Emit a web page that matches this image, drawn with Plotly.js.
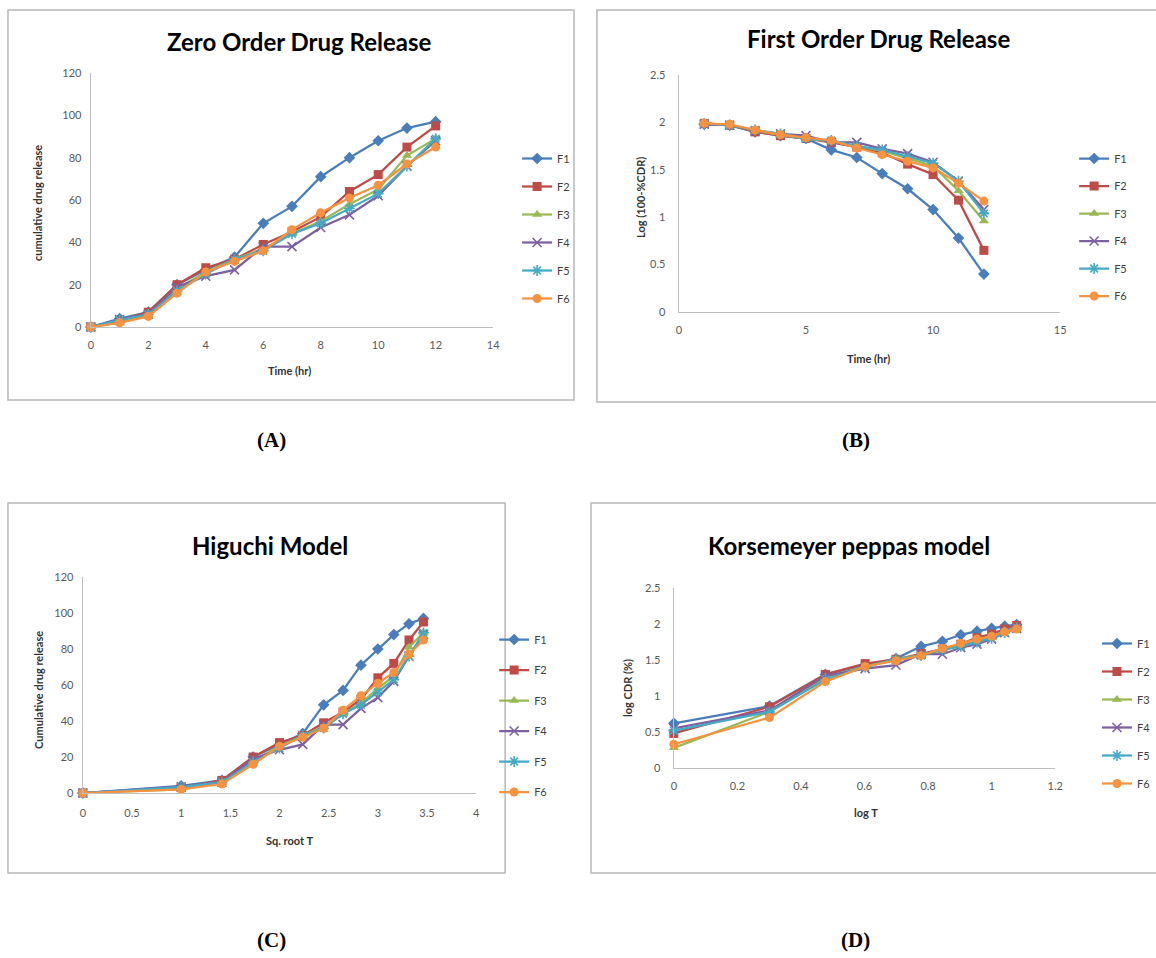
<!DOCTYPE html>
<html>
<head>
<meta charset="utf-8">
<script src="https://cdn.plot.ly/plotly-3.0.1.min.js"></script>
<style>html,body{margin:0;padding:0;background:#fff;}#chart{width:1156px;height:958px;}</style>
</head>
<body>
<div id="chart"></div>
<script>
// ---------- DATA ----------
const seriesNames = ['F1','F2','F3','F4','F5','F6'];

// (A) Zero order: cumulative drug release vs time (hr)
const timeHr = [0,1,2,3,4,5,6,7,8,9,10,11,12];
const zeroF1 = [0,4,7,20,27,33,49,57,71,80,88,94,97];
const zeroF2 = [0,3,7,20,28,32,39,45,52,64,72,85,95];
const zeroF3 = [0,2,6,18,26,32,37,44,50,58,65,81,89];
const zeroF4 = [0,3.5,6,19,24,27,38,38,47,53,62,76,88];
const zeroF5 = [0,3.3,6,17,25,32,36,44,49,56,63,76,89];
const zeroF6 = [0,2,5,16,26,31,36,46,54,61,67,77,85];

// (B) First order: log(100-%CDR) vs time (hr)
const timeHrB = [1,2,3,4,5,6,7,8,9,10,11,12];
const firstF1 = [1.98,1.97,1.90,1.86,1.83,1.71,1.63,1.46,1.30,1.08,0.78,0.40];
const firstF2 = [1.99,1.97,1.90,1.86,1.83,1.79,1.74,1.68,1.56,1.45,1.18,0.65];
const firstF3 = [1.99,1.97,1.91,1.87,1.83,1.80,1.75,1.70,1.62,1.54,1.28,0.96];
const firstF4 = [1.98,1.97,1.91,1.88,1.86,1.79,1.79,1.72,1.67,1.58,1.38,1.08];
const firstF5 = [1.99,1.97,1.92,1.88,1.83,1.81,1.75,1.71,1.64,1.57,1.38,1.04];
const firstF6 = [1.99,1.98,1.92,1.87,1.84,1.81,1.73,1.66,1.59,1.52,1.36,1.17];

// (C) Higuchi: cumulative drug release vs square root of time
const sqrtT = [0,1,1.414,1.732,2,2.236,2.449,2.646,2.828,3,3.162,3.317,3.464];
const higF1 = [0,4,7,20,27,33,49,57,71,80,88,94,97];
const higF2 = [0,3,7,20,28,32,39,45,52,64,72,85,95];
const higF3 = [0,2,6,18,26,32,37,44,50,58,65,81,89];
const higF4 = [0,3.5,6,19,24,27,38,38,47,53,62,76,88];
const higF5 = [0,3.3,6,17,25,32,36,44,49,56,63,76,89];
const higF6 = [0,2,5,16,26,31,36,46,54,61,67,77,85];

// (D) Korsmeyer-Peppas: log CDR (%) vs log T
const logT = [0,0.301,0.477,0.602,0.699,0.778,0.845,0.903,0.954,1.0,1.041,1.079];
const kpF1 = [0.62,0.86,1.30,1.43,1.52,1.69,1.76,1.85,1.90,1.94,1.97,1.99];
const kpF2 = [0.48,0.85,1.30,1.45,1.51,1.59,1.65,1.72,1.81,1.86,1.93,1.98];
const kpF3 = [0.28,0.78,1.26,1.41,1.51,1.57,1.64,1.70,1.76,1.81,1.91,1.95];
const kpF4 = [0.55,0.80,1.28,1.38,1.43,1.58,1.58,1.67,1.72,1.79,1.88,1.94];
const kpF5 = [0.52,0.78,1.23,1.40,1.51,1.56,1.64,1.69,1.75,1.80,1.88,1.95];
const kpF6 = [0.33,0.70,1.20,1.41,1.49,1.56,1.66,1.73,1.79,1.83,1.89,1.93];

// ---------- STYLE ----------
const colors  = ['#4A7EBB','#BE4B48','#98B954','#7D60A0','#46AAC5','#F69240'];
const symbols = ['diamond','square','triangle-up','x-thin','asterisk','circle'];
const W = 1156, H = 958;
const FONT = 'Lato, "Open Sans", sans-serif';

function px(x){ return x / W; }
function py(y){ return 1 - y / H; }

const panels = [
  {x: timeHr,   ys: [zeroF1,zeroF2,zeroF3,zeroF4,zeroF5,zeroF6], xa:'x',  ya:'y',  leg:'legend'},
  {x: timeHrB,  ys: [firstF1,firstF2,firstF3,firstF4,firstF5,firstF6], xa:'x2', ya:'y2', leg:'legend2'},
  {x: sqrtT,    ys: [higF1,higF2,higF3,higF4,higF5,higF6], xa:'x3', ya:'y3', leg:'legend3'},
  {x: logT,     ys: [kpF1,kpF2,kpF3,kpF4,kpF5,kpF6], xa:'x4', ya:'y4', leg:'legend4'}
];

const traces = [];
panels.forEach((p, pi) => {
  p.ys.forEach((ys, i) => {
    const lineSym = (symbols[i] === 'x-thin' || symbols[i] === 'asterisk');
    traces.push({
      type: 'scatter', mode: 'lines+markers',
      x: p.x, y: ys, name: seriesNames[i],
      xaxis: p.xa, yaxis: p.ya, legend: p.leg,
      legendgroup: 'g' + pi + i,
      cliponaxis: false,
      line: {color: colors[i], width: 2.25},
      marker: {symbol: symbols[i], size: lineSym ? 9 : 9, color: colors[i],
               line: {color: colors[i], width: lineSym ? 1.6 : 0}},
      hoverinfo: 'skip'
    });
  });
});

function axis(domain, range, dtick, anchor, standoff){
  return {domain: domain, range: range, dtick: dtick, tick0: 0, anchor: anchor,
    showline: true, linecolor: '#bfbfbf', linewidth: 1.2, showgrid: false, zeroline: false,
    ticks: '', tickfont: {family: FONT, size: 11, color: '#595959'},
    ticklabelstandoff: standoff, fixedrange: true};
}

function legendAt(x, y, gap){
  return {x: px(x), y: py(y), xanchor: 'left', yanchor: 'top',
    font: {family: FONT, size: 11, color: '#404040'}, bgcolor: 'rgba(0,0,0,0)',
    traceorder: 'grouped', tracegroupgap: gap, itemwidth: 30, borderwidth: 0};
}

const layout = {
  width: W, height: H, margin: {l:0, r:0, t:0, b:0},
  paper_bgcolor: '#fff', plot_bgcolor: 'rgba(0,0,0,0)',
  font: {family: FONT},
  xaxis:  axis([px(91),  px(494)],  [0,14],  2,   'y',  8),
  yaxis:  axis([py(327), py(73)],   [0,120], 20,  'x',  6),
  xaxis2: axis([px(680), px(1062)], [0,15],  5,   'y2', 8),
  yaxis2: axis([py(312), py(75)],   [0,2.5], 0.5, 'x2', 10),
  xaxis3: axis([px(83),  px(477)],  [0,4],   0.5, 'y3', 10),
  yaxis3: axis([py(793), py(577)],  [0,120], 20,  'x3', 6),
  xaxis4: axis([px(675), px(1057)], [0,1.2], 0.2, 'y4', 8),
  yaxis4: axis([py(768), py(588)],  [0,2.5], 0.5, 'x4', 10),
  legend:  legendAt(518, 144, 9),
  legend2: legendAt(1076, 144, 8.5),
  legend3: legendAt(495, 625, 11.5),
  legend4: legendAt(1099, 629, 9),
  shapes: [
    {type:'rect', xref:'paper', yref:'paper', x0:px(8),   x1:px(575),  y0:py(400), y1:py(10),  line:{color:'#b8b8b8', width:1.5}},
    {type:'rect', xref:'paper', yref:'paper', x0:px(598), x1:px(1160), y0:py(402), y1:py(10),  line:{color:'#b8b8b8', width:1.5}},
    {type:'rect', xref:'paper', yref:'paper', x0:px(8),   x1:px(506),  y0:py(873), y1:py(503), line:{color:'#b8b8b8', width:1.5}},
    {type:'rect', xref:'paper', yref:'paper', x0:px(592), x1:px(1160), y0:py(873), y1:py(503), line:{color:'#b8b8b8', width:1.5}}
  ],
  annotations: []
};

function ann(text, x, y, size, opts){
  return Object.assign({text: text, xref:'paper', yref:'paper', x: px(x), y: py(y),
    xanchor:'center', yanchor:'middle', showarrow:false,
    font:{family: FONT, size: size, color:'#000'}}, opts || {});
}
const A = layout.annotations;
const axFont = {family:FONT, size:11, color:'#333'};
// chart titles
A.push(ann('<b>Zero Order Drug Release</b>', 300, 42, 24));
A.push(ann('<b>First Order Drug Release</b>', 880, 38, 24));
A.push(ann('<b>Higuchi Model</b>', 270, 545, 24));
A.push(ann('<b>Korsemeyer peppas model</b>', 850, 545, 24));
// axis titles
A.push(ann('<b>Time (hr)</b>', 290, 370, 11, {font:axFont}));
A.push(ann('<b>cumulative drug release</b>', 38, 203, 11, {textangle:-90, font:axFont}));
A.push(ann('<b>Time (hr)</b>', 870, 358, 11, {font:axFont}));
A.push(ann('<b>Log (100-%CDR)</b>', 641, 197, 11, {textangle:-90, font:axFont}));
A.push(ann('<b>Sq. root T</b>', 290, 840, 11, {font:axFont}));
A.push(ann('<b>Cumulative drug release</b>', 38, 690, 11, {textangle:-90, font:axFont}));
A.push(ann('<b>log T</b>', 868, 812, 11, {font:axFont}));
A.push(ann('<b>log CDR (%)</b>', 628, 688, 11, {textangle:-90, font:axFont}));
// panel letters
const serif = '"Liberation Serif", "DejaVu Serif", serif';
const letterFont = {family:serif, size:21, color:'#000'};
A.push(ann('<b>(A)</b>', 272, 440, 21, {font:letterFont}));
A.push(ann('<b>(B)</b>', 857, 440, 21, {font:letterFont}));
A.push(ann('<b>(C)</b>', 272, 940, 21, {font:letterFont}));
A.push(ann('<b>(D)</b>', 857, 940, 21, {font:letterFont}));

Plotly.newPlot('chart', traces, layout, {displayModeBar:false, staticPlot:true});
</script>
</body>
</html>
